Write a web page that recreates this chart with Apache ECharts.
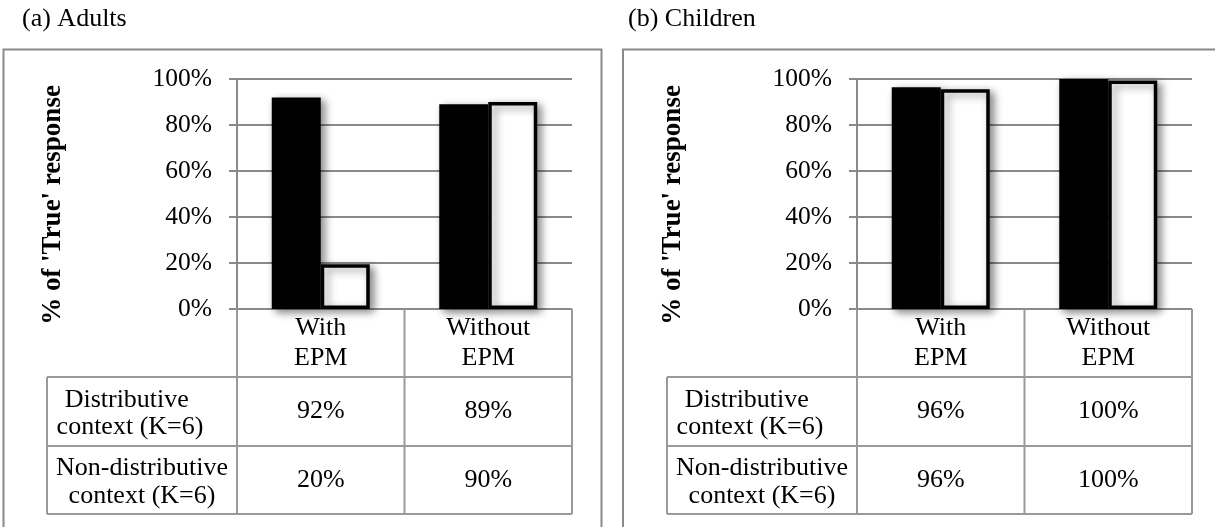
<!DOCTYPE html>
<html>
<head>
<meta charset="utf-8">
<script src="https://cdn.jsdelivr.net/npm/echarts@6/dist/echarts.min.js"></script>
<style>
html,body{margin:0;padding:0;background:#fff;}
#chart{width:1215px;height:527px;}
</style>
</head>
<body>
<div id="chart"></div>
<script>
// ---- data ----
var categories = ['With\nEPM', 'Without\nEPM'];
var rowLabels = ['Distributive \ncontext (K=6)', 'Non-distributive\ncontext (K=6)'];
var seriesNames = ['Distributive context (K=6)', 'Non-distributive context (K=6)'];
var panelTitles = ['(a) Adults', '(b) Children'];
var yTicks = [0, 20, 40, 60, 80, 100];
// bar heights (%)
var adultsDistributive = [92, 89];
var adultsNonDistributive = [19.5, 90];
var childrenDistributive = [96.4, 100];
var childrenNonDistributive = [95.5, 99.4];
// table labels
var adultsTable = [['92%', '89%'], ['20%', '90%']];
var childrenTable = [['96%', '100%'], ['96%', '100%']];
var yAxisTitle = "% of 'True' response";

// ---- layout ----
var FONT = "'Liberation Serif', 'Times New Roman', serif";
var panels = [
  {title: panelTitles[0], titleX: 22, boxX: 3.5, plotLeft: 237, d: adultsDistributive, n: adultsNonDistributive, table: adultsTable},
  {title: panelTitles[1], titleX: 628, boxX: 623, plotLeft: 857, d: childrenDistributive, n: childrenNonDistributive, table: childrenTable}
];
var plotTop = 79, plotHeight = 230, plotWidth = 335;
var zeroY = plotTop + plotHeight;
var headerBottom = zeroY + 68, row1Bottom = zeroY + 137, row2Bottom = zeroY + 205;
var labelColW = 190;
var gridColor = '#8a8a8a', tableColor = '#9a9a9a';

var grids = [], xAxes = [], yAxes = [], series = [], graphics = [];
panels.forEach(function (p, i) {
  grids.push({left: p.plotLeft, top: plotTop, width: plotWidth, height: plotHeight, containLabel: false});
  xAxes.push({type: 'category', gridIndex: i, data: categories, boundaryGap: true,
    axisLine: {show: false}, axisTick: {show: false}, axisLabel: {show: false}, splitLine: {show: false}});
  yAxes.push({type: 'value', gridIndex: i, min: 0, max: 100, interval: 20,
    axisLine: {show: true, lineStyle: {color: gridColor, width: 2}},
    axisTick: {show: true, length: 8, lineStyle: {color: gridColor, width: 2}},
    axisLabel: {formatter: '{value}%', fontFamily: FONT, fontSize: 25.5, color: '#000', margin: 25},
    splitLine: {show: true, lineStyle: {color: gridColor, width: 2}}});
  var shadow = {shadowBlur: 8, shadowOffsetX: 4, shadowOffsetY: 3, shadowColor: 'rgba(0,0,0,0.45)'};
  series.push({name: seriesNames[0], type: 'bar', xAxisIndex: i, yAxisIndex: i, data: p.d,
    barGap: '0%', barCategoryGap: '41.5%',
    itemStyle: Object.assign({color: '#000', borderColor: '#000', borderWidth: 3}, shadow)});
  series.push({name: seriesNames[1], type: 'bar', xAxisIndex: i, yAxisIndex: i, data: p.n,
    barGap: '0%', barCategoryGap: '41.5%',
    itemStyle: Object.assign({color: '#fff', borderColor: '#000', borderWidth: 3.5}, shadow)});

  // outer box
  graphics.push({type: 'rect', shape: {x: p.boxX, y: 49.5, width: 598, height: 520},
    style: {fill: null, stroke: gridColor, lineWidth: 2}, z: 0, silent: true});
  // panel title
  graphics.push({type: 'text', x: p.titleX, y: 19.5,
    style: {text: p.title, font: '26px ' + FONT, fill: '#000', textAlign: 'left', textVerticalAlign: 'middle'}});
  // y axis title
  graphics.push({type: 'text', x: p.plotLeft - 184, y: 205, rotation: Math.PI / 2,
    style: {text: yAxisTitle, font: 'bold 27px ' + FONT, fill: '#000', textAlign: 'center', textVerticalAlign: 'middle'}});

  // table
  var xL = p.plotLeft, xR = p.plotLeft + plotWidth, colW = plotWidth / categories.length, tL = p.plotLeft - labelColW;
  function hline(x1, x2, y) {
    graphics.push({type: 'line', shape: {x1: x1, y1: y, x2: x2, y2: y}, style: {stroke: tableColor, lineWidth: 2}, z: 1, silent: true});
  }
  function vline(x, y1, y2) {
    graphics.push({type: 'line', shape: {x1: x, y1: y1, x2: x, y2: y2}, style: {stroke: tableColor, lineWidth: 2}, z: 1, silent: true});
  }
  [headerBottom, row1Bottom, row2Bottom].forEach(function (y) { hline(tL, xR, y); });
  vline(tL, headerBottom, row2Bottom);
  for (var c = 0; c <= categories.length; c++) vline(xL + c * colW, zeroY, row2Bottom);
  // header texts
  categories.forEach(function (cat, c) {
    graphics.push({type: 'text', x: xL + (c + 0.5) * colW, y: (zeroY + headerBottom) / 2,
      style: {text: cat, font: '26px ' + FONT, fill: '#000', textAlign: 'center', textVerticalAlign: 'middle', lineHeight: 30}});
  });
  var rowTops = [headerBottom, row1Bottom], rowBots = [row1Bottom, row2Bottom];
  rowLabels.forEach(function (lab, r) {
    var cy = (rowTops[r] + rowBots[r]) / 2 + 2;
    graphics.push({type: 'text', x: tL + labelColW / 2 - (r === 0 ? 12 : 0), y: cy,
      style: {text: lab, font: '26px ' + FONT, fill: '#000', textAlign: 'center', textVerticalAlign: 'middle', lineHeight: 27.5}});
    p.table[r].forEach(function (v, c) {
      graphics.push({type: 'text', x: xL + (c + 0.5) * colW, y: cy - 2,
        style: {text: v, font: '26px ' + FONT, fill: '#000', textAlign: 'center', textVerticalAlign: 'middle'}});
    });
  });
});

var chart = echarts.init(document.getElementById('chart'), null, {renderer: 'canvas'});
chart.setOption({
  animation: false,
  backgroundColor: '#fff',
  grid: grids, xAxis: xAxes, yAxis: yAxes, series: series,
  graphic: {elements: graphics}
});
</script>
</body>
</html>
